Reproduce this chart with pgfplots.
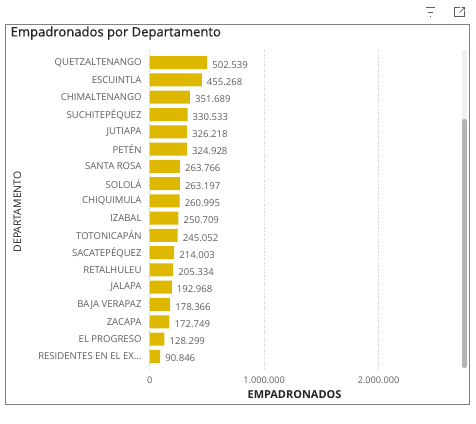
\documentclass[border=0pt]{standalone}
\usepackage{fontspec}
\setmainfont{Open Sans}
\newfontfamily\titlefont[FakeBold=0.7]{Open Sans}
\usepackage{pgfplots}
\pgfplotsset{compat=1.18}
\definecolor{bargold}{RGB}{221,183,0}
\definecolor{lbl}{RGB}{96,94,92}
\definecolor{dark}{RGB}{37,36,35}
\definecolor{gridc}{RGB}{205,205,205}
\definecolor{framec}{RGB}{128,128,128}
\definecolor{trackc}{RGB}{240,240,240}
\definecolor{thumbc}{RGB}{180,180,180}
\begin{document}
\begin{tikzpicture}[x=1bp,y=1bp]
\useasboundingbox (0,0) rectangle (476,423);
\fill[white] (0,0) rectangle (476,423);
\draw[framec, line width=0.9bp] (5.5,398.5) rectangle (469.5,19);
% title
\node[anchor=west, text=dark, font=\titlefont\fontsize{13.1}{15}\selectfont, inner sep=0] at (10.5,390) {Empadronados por Departamento};
% icons
\draw[lbl, line width=0.7bp] (426,415.3) -- (434.5,415.3) (427.8,411) -- (432.7,411) (429.6,406.7) -- (430.9,406.7);
\draw[lbl, line width=0.7bp] (460,415.3) -- (454,415.3) -- (454,406.3) -- (464.5,406.3) -- (464.5,411.5);
\draw[lbl, line width=0.7bp] (459.5,410.5) -- (464.5,415.5) (461.5,415.5) -- (464.5,415.5) -- (464.5,412.8);
% scrollbar
\fill[trackc, rounded corners=2bp] (462,373) rectangle (467,302);
\fill[thumbc, rounded corners=2bp] (462,304) rectangle (467,55);
\node[rotate=90, text=dark, font=\fontsize{10.5}{12}\selectfont, inner sep=0] at (17.5,211) {DEPARTAMENTO};
\node[text=dark, font=\fontsize{11}{13}\selectfont\bfseries, inner sep=0] at (294.5,28) {EMPADRONADOS};
\begin{axis}[
  at={(149.7bp,53.75bp)}, anchor=south west,
  scale only axis, width=303.2bp, height=319.5bp,
  xbar, bar width=13bp,
  xmin=0, xmax=2650000, ymin=-0.75, ymax=17.75, y dir=reverse,
  axis line style={draw=none}, major tick length=0pt, tick style={draw=none},
  xtick={0,1000000,2000000}, xticklabels={0,1.000.000,2.000.000},
  scaled x ticks=false,
  ytick={0,1,2,3,4,5,6,7,8,9,10,11,12,13,14,15,16,17},
  yticklabels={QUETZALTENANGO,ESCUINTLA,CHIMALTENANGO,SUCHITEPÉQUEZ,JUTIAPA,PETÉN,SANTA ROSA,SOLOLÁ,CHIQUIMULA,IZABAL,TOTONICAPÁN,SACATEPÉQUEZ,RETALHULEU,JALAPA,BAJA VERAPAZ,ZACAPA,EL PROGRESO,RESIDENTES EN EL EX.{}.{}.},
  xmajorgrids, grid style={dotted, color=gridc, line width=0.6bp},
  yticklabel style={text=lbl, font=\fontsize{9.6}{11}\selectfont, inner sep=0pt, xshift=-8bp},
  xticklabel style={text=lbl, font=\fontsize{9.2}{10}\selectfont, inner sep=0pt, yshift=-7bp},
  nodes near coords, point meta=explicit symbolic,
  every node near coord/.append style={text=lbl, font=\fontsize{9.6}{11}\selectfont, anchor=west, inner sep=0pt, xshift=5bp, yshift=-2.2bp},
]
\addplot[draw=none, fill=bargold] coordinates {
(502539,0) [502.539]
(455268,1) [455.268]
(351689,2) [351.689]
(330533,3) [330.533]
(326218,4) [326.218]
(324928,5) [324.928]
(263766,6) [263.766]
(263197,7) [263.197]
(260995,8) [260.995]
(250709,9) [250.709]
(245052,10) [245.052]
(214003,11) [214.003]
(205334,12) [205.334]
(192968,13) [192.968]
(178366,14) [178.366]
(172749,15) [172.749]
(128299,16) [128.299]
(90846,17) [90.846]
};
\end{axis}
\end{tikzpicture}
\end{document}
